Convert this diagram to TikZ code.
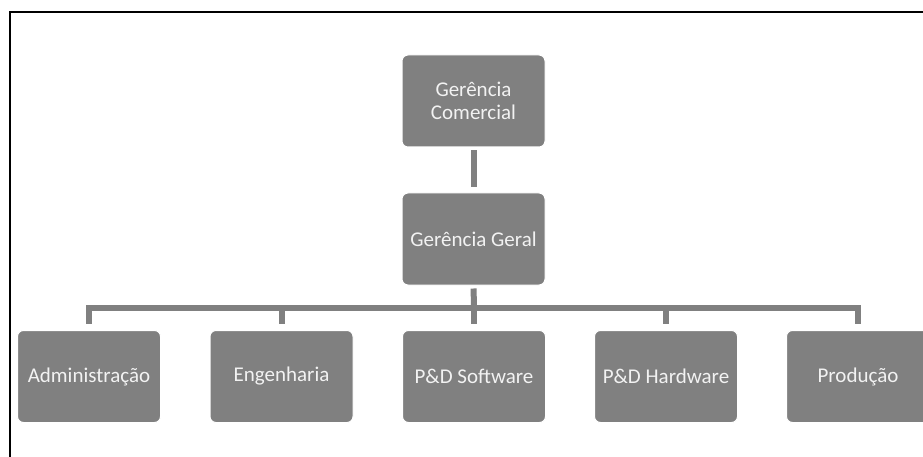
\documentclass[tikz,border=0pt]{standalone}
\usepackage{fontspec}
\setmainfont{Carlito}
\definecolor{boxgray}{RGB}{128,128,128}
\definecolor{txt}{RGB}{242,242,242}
\begin{document}
\begin{tikzpicture}[x=1pt,y=-1pt,
  orgbox/.style={draw=white, line width=1pt, fill=boxgray, rounded corners=6pt,
    minimum width=143pt, minimum height=92pt, inner sep=0pt, text=txt,
    font=\fontsize{21}{23}\selectfont, align=center},
  conn/.style={draw=boxgray, line width=6pt}]
\useasboundingbox (0,0) rectangle (923,457);
\clip (0,0) rectangle (923,457);
% frame
\draw[line width=2pt, black] (10,458) -- (10,12) -- (925,12);
% nodes
\node[orgbox] (com) at (473.5,101) {Gerência\\Comercial};
\node[orgbox] (ger) at (473.5,239) {Gerência Geral};
\node[orgbox] (adm) at (89,376.5) {Administração};
\node[orgbox] (eng) at (281.5,376.5) {Engenharia};
\node[orgbox] (sw)  at (474,376.5) {P\&D Software};
\node[orgbox] (hw)  at (666,376.5) {P\&D Hardware};
\node[orgbox] (pro) at (858,376.5) {Produção};
% connectors
\coordinate (bar) at (474,308);
\draw[conn, shorten <=3pt, shorten >=5pt] (com.south) -- (ger.north);
\draw[conn, shorten <=3pt] (ger.south) -- (bar);
\draw[conn, line cap=rect] (adm.north |- bar) -- (pro.north |- bar);
\foreach \n in {adm,eng,sw,hw,pro}
  \draw[conn, shorten >=6pt] (\n.north |- bar) -- (\n.north);
\end{tikzpicture}
\end{document}
